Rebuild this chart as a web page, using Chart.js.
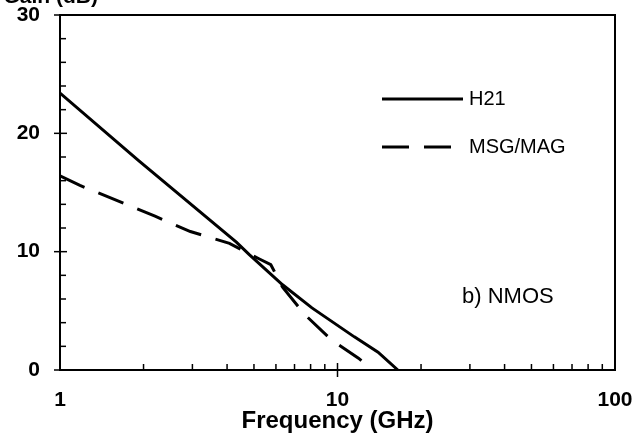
<!DOCTYPE html>
<html>
<head>
<meta charset="utf-8">
<script src="https://cdn.jsdelivr.net/npm/chart.js@4.4.1/dist/chart.umd.min.js"></script>
<style>
    html, body { margin: 0; padding: 0; background: #fff; }
    #grafik { display: block; }
</style>
</head>
<body>
<canvas id="grafik" width="638" height="436"></canvas>
<script>
// Values
const h21Freq = [1, 1.92, 4.32, 4.81, 6.34, 8.09, 11.5, 14.0, 16.5];
const h21Gain = [23.4, 17.7, 10.8, 9.75, 7.2, 5.25, 2.8, 1.5, 0];

const msgFreq = [1, 1.18, 2.2, 2.95, 4.08, 5.21, 5.75, 6.34, 7.64, 9.52, 11.9, 13.4];
const msgGain = [16.4, 15.6, 13.0, 11.7, 10.7, 9.4, 8.9, 7.0, 4.66, 2.54, 1.0, 0];

const xTicks = [1, 10, 100];
const yTicks = [0, 10, 20, 30];
const seriesNames = ['H21', 'MSG/MAG'];

const FONT = '"Liberation Sans", Arial, sans-serif';
const DASH = [27, 15];

function pairs(xs, ys) {
    return xs.map((x, i) => ({ x: x, y: ys[i] }));
}

// frame, inner ticks, legend and labels drawn on top
const decorPlugin = {
    id: 'decor',
    afterDraw(chart) {
        const ctx = chart.ctx;
        const a = chart.chartArea;
        const xs = chart.scales.x;
        const ys = chart.scales.y;
        ctx.save();
        ctx.strokeStyle = '#000';
        ctx.lineWidth = 2;
        ctx.strokeRect(a.left, a.top, a.right - a.left, a.bottom - a.top);

        // y ticks every 2 dB
        ctx.lineWidth = 1.5;
        for (let v = 2; v < 30; v += 2) {
            const py = ys.getPixelForValue(v);
            ctx.beginPath();
            if (v % 10 === 0) {
                ctx.moveTo(a.left - 6, py);
                ctx.lineTo(a.left + 7, py);
            } else {
                ctx.moveTo(a.left, py);
                ctx.lineTo(a.left + 6, py);
            }
            ctx.stroke();
        }
        ctx.beginPath();
        ctx.moveTo(a.left - 6, a.bottom);
        ctx.lineTo(a.left, a.bottom);
        ctx.moveTo(a.left - 6, a.top);
        ctx.lineTo(a.left, a.top);
        ctx.stroke();

        // x ticks on the log axis
        [1, 10].forEach(dec => {
            for (let k = 2; k <= 9; k++) {
                const px = xs.getPixelForValue(dec * k);
                ctx.beginPath();
                ctx.moveTo(px, a.bottom);
                ctx.lineTo(px, a.bottom - 6);
                ctx.stroke();
            }
        });
        const p10 = xs.getPixelForValue(10);
        ctx.beginPath();
        ctx.moveTo(p10, a.bottom - 7);
        ctx.lineTo(p10, a.bottom + 7);
        ctx.stroke();

        // legend
        ctx.lineWidth = 3;
        ctx.beginPath();
        ctx.moveTo(382, 99);
        ctx.lineTo(463, 99);
        ctx.stroke();
        ctx.setLineDash(DASH);
        ctx.beginPath();
        ctx.moveTo(382, 147);
        ctx.lineTo(452, 147);
        ctx.stroke();
        ctx.setLineDash([]);

        ctx.fillStyle = '#000';
        ctx.textBaseline = 'middle';
        ctx.textAlign = 'left';
        ctx.font = '20px ' + FONT;
        ctx.fillText(seriesNames[0], 469, 99);
        ctx.fillText(seriesNames[1], 469, 147);

        ctx.font = '22px ' + FONT;
        ctx.fillText('b) NMOS', 462, 297);

        // y title, cut by the top edge as in the scan
        ctx.font = 'bold 21px ' + FONT;
        ctx.textAlign = 'right';
        ctx.textBaseline = 'alphabetic';
        ctx.fillText('Gain (dB)', 98, 3);
        ctx.restore();
    }
};

new Chart(document.getElementById('grafik'), {
    type: 'line',
    data: {
        datasets: [{
            label: seriesNames[0],
            data: pairs(h21Freq, h21Gain),
            borderColor: '#000',
            borderWidth: 3,
            pointRadius: 0,
            tension: 0,
            fill: false
        }, {
            label: seriesNames[1],
            data: pairs(msgFreq, msgGain),
            borderColor: '#000',
            borderWidth: 3,
            borderDash: DASH,
            pointRadius: 0,
            tension: 0,
            fill: false
        }]
    },
    options: {
        responsive: false,
        animation: false,
        devicePixelRatio: 1,
        layout: { padding: { top: 15, right: 23, left: 0, bottom: 0 } },
        plugins: {
            legend: { display: false },
            tooltip: { enabled: false }
        },
        scales: {
            x: {
                type: 'logarithmic',
                min: 1,
                max: 100,
                afterBuildTicks: s => { s.ticks = xTicks.map(v => ({ value: v })); },
                afterFit: s => { s.height = 66; s.paddingLeft = 0; s.paddingRight = 0; },
                grid: { display: true, drawOnChartArea: false, drawTicks: false, color: 'rgba(0,0,0,0)' },
                border: { display: false },
                ticks: {
                    color: '#000',
                    font: { family: FONT, size: 21, weight: 'bold' },
                    padding: 18,
                    maxRotation: 0,
                    autoSkip: false,
                    callback: v => String(v)
                },
                title: {
                    display: true,
                    text: 'Frequency (GHz)',
                    color: '#000',
                    font: { family: FONT, size: 24, weight: 'bold' },
                    padding: { top: 0, bottom: 0 }
                }
            },
            y: {
                min: 0,
                max: 30,
                afterBuildTicks: s => { s.ticks = yTicks.map(v => ({ value: v })); },
                afterFit: s => { s.width = 60; s.paddingTop = 0; s.paddingBottom = 0; },
                grid: { display: true, drawOnChartArea: false, drawTicks: false, color: 'rgba(0,0,0,0)' },
                border: { display: false },
                ticks: {
                    color: '#000',
                    font: { family: FONT, size: 21, weight: 'bold' },
                    padding: 20
                }
            }
        }
    },
    plugins: [decorPlugin]
});
</script>
</body>
</html>
